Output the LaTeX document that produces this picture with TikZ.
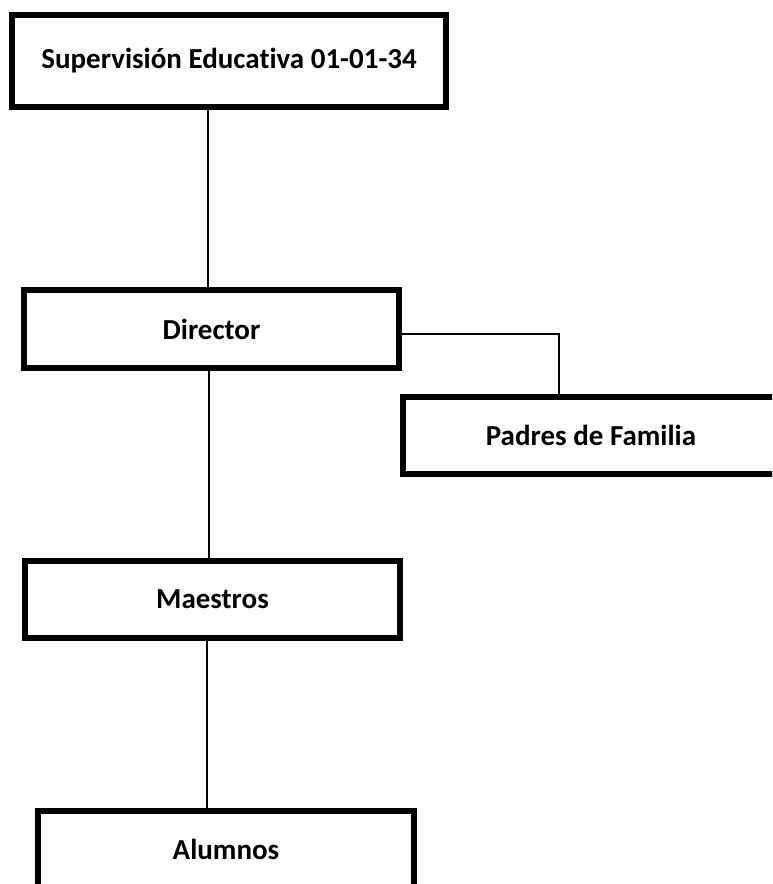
\documentclass[tikz,border=0pt]{standalone}
\usepackage{fontspec}
\setmainfont{Carlito}[RawFeature=-liga]
\usepackage{tikz}
\usetikzlibrary{positioning}

\begin{document}
\begin{tikzpicture}[x=0.5pt, y=-0.5pt,
        box/.style={draw, line width=3pt, fill=white, inner sep=0pt,
            font=\fontsize{14.5}{17}\selectfont\bfseries},
        link/.style={line width=0.75pt}]
        \useasboundingbox (0, 0) rectangle (772, 884);
        \clip (0, 0) rectangle (772, 884);

        \node[box, minimum width=217pt, minimum height=46pt] (sup) at (229, 61) {Supervisión Educativa 01-01-34};
        \node[box, minimum width=187.5pt, minimum height=39pt] (dir) at (211.5, 329) {Director};
        \node[box, minimum width=188pt, minimum height=38.5pt] (pad) at (591, 435.5) {Padres de Familia};
        \node[box, minimum width=187.5pt, minimum height=38.5pt] (mae) at (212.5, 599.5) {Maestros};
        \node[box, minimum width=188pt, minimum height=38pt] (alu) at (226, 849) {Alumnos};

        \draw[link] ([xshift=-10.5pt]sup.south) -- ([xshift=-1.75pt]dir.north);
        \draw[link] ([xshift=-1.25pt]dir.south) -- ([xshift=-1.75pt]mae.north);
        \draw[link] ([xshift=-2.75pt]mae.south) -- ([xshift=-9.5pt]alu.north);
        \draw[link] ([yshift=-2.5pt]dir.east) -| ([xshift=-16pt]pad.north);
    \end{tikzpicture}
\end{document}
